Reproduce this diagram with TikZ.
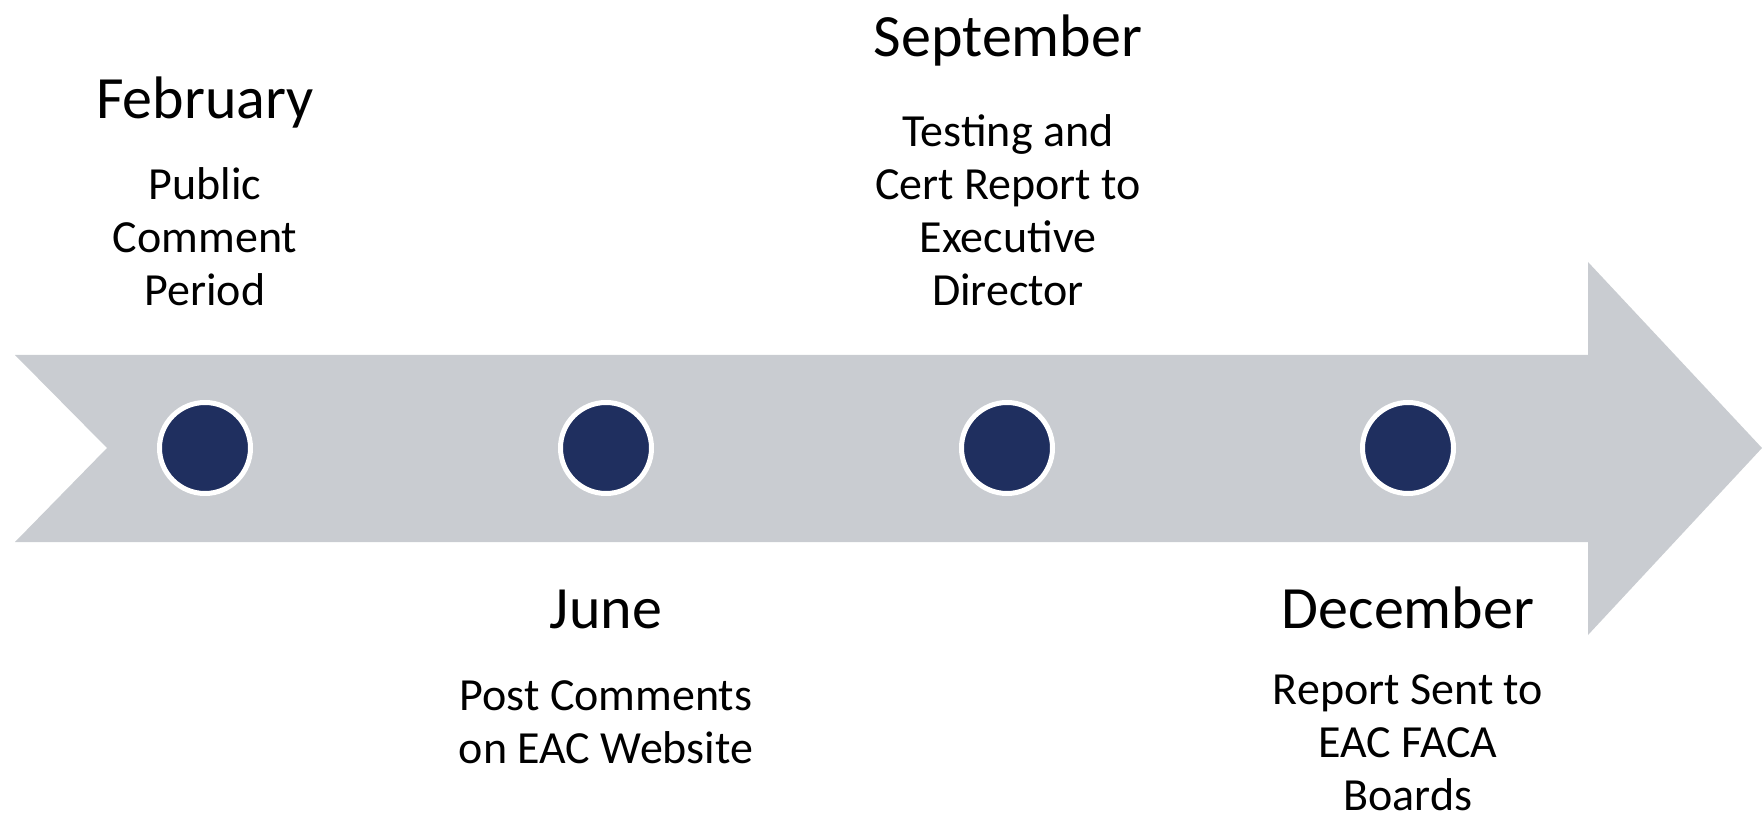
\documentclass[tikz,border=0pt]{standalone}
\usepackage{fontspec}
\setmainfont{Carlito}
\usepackage{tikz}
\usetikzlibrary{positioning}

\definecolor{bandgray}{HTML}{C9CCD1}
\definecolor{dotnavy}{HTML}{1F2F5F}

\begin{document}
\begin{tikzpicture}[
    x=1pt, y=-1pt,
    month/.style={anchor=base, font=\fontsize{60}{72}\selectfont, inner sep=0pt},
    note/.style={anchor=base, align=center, font=\fontsize{46}{53}\selectfont, inner sep=0pt},
    dot/.style={circle, fill=dotnavy, draw=white, line width=5pt, minimum size=91pt, inner sep=0pt}
]
\useasboundingbox (0,0) rectangle (1762,818);

% Timeline arrow
\fill[bandgray] (15,355) -- (1588,355) -- (1588,262) -- (1762,448) -- (1588,635)
    -- (1588,542) -- (15,542) -- (107,448) -- cycle;

% Milestones
\node[dot] (feb) at (205,448) {};
\node[dot] (jun) at (606,448) {};
\node[dot] (sep) at (1007,448) {};
\node[dot] (dec) at (1408,448) {};

% Labels above (base = last line)
\node[month] (febname) at (205,119) {February};
\node[note] (febtext) at (205,306) {Public\\Comment\\Period};
\node[month] (sepname) at (1008,57) {September};
\node[note] (septext) at (1008,306) {Testing and\\Cert Report to\\Executive\\Director};

% Labels below
\node[month] (junname) at (606,628) {June};
\node[note] (juntext) at (606,763) {Post Comments\\on EAC Website};
\node[month] (decname) at (1408,628) {December};
\node[note] (dectext) at (1408,810) {Report Sent to\\EAC FACA\\Boards};
\end{tikzpicture}
\end{document}
